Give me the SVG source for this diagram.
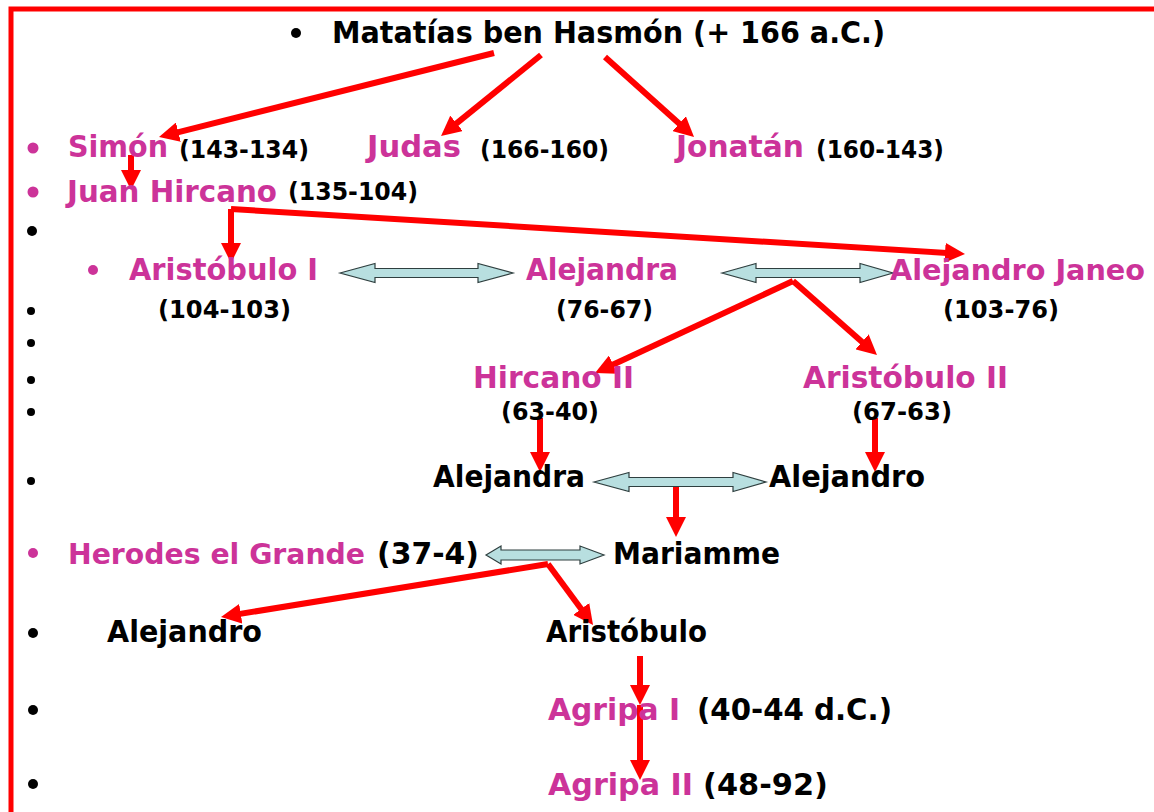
<svg xmlns="http://www.w3.org/2000/svg" width="1154" height="812" viewBox="0 0 1154 812">
<style>
text{font-family:"DejaVu Sans","Liberation Sans",sans-serif;font-weight:bold;}
.p{fill:#CC3399;font-size:31px;}
.k{fill:#000;font-size:31px;}
.d{fill:#000;font-size:25px;}
.s{font-size:29px;}
.b{fill:#000;}
.bp{fill:#CC3399;}
.ar{fill:none;stroke:#FF0000;stroke-width:6;marker-end:url(#ah);}
.da{fill:#B8DFE0;stroke:#2F3F3F;stroke-width:1.2;}
</style>
<defs>
<marker id="ah" markerUnits="userSpaceOnUse" viewBox="0 0 20 20" markerWidth="20" markerHeight="20" refX="10" refY="10" orient="auto">
<path d="M0,0 L20,10 L0,20 z" fill="#FF0000"/>
</marker>
</defs>
<rect width="1154" height="812" fill="#FFFFFF"/>
<path d="M11,812 V9 H1154" fill="none" stroke="#FF0000" stroke-width="5"/>

<g id="bullets">
<circle class="b" cx="296" cy="33" r="5"/>
<circle class="bp" cx="33" cy="148" r="5.5"/>
<circle class="bp" cx="33" cy="192" r="5.5"/>
<circle class="b" cx="32" cy="231" r="5"/>
<circle class="bp" cx="93" cy="270" r="5"/>
<circle class="b" cx="31" cy="311" r="4"/>
<circle class="b" cx="31" cy="343" r="4"/>
<circle class="b" cx="31" cy="380" r="4"/>
<circle class="b" cx="31" cy="412" r="4"/>
<circle class="b" cx="31" cy="481" r="4"/>
<circle class="bp" cx="33" cy="553" r="5"/>
<circle class="b" cx="33" cy="633" r="5"/>
<circle class="b" cx="33" cy="710" r="5"/>
<circle class="b" cx="33" cy="784" r="5"/>
</g>

<g id="connectors">
<path class="ar" d="M494,53 L168.7,134.6"/>
<path class="ar" d="M541,55 L448.8,129.7"/>
<path class="ar" d="M605,57 L686.6,130.3"/>
<path class="ar" d="M131,155 V180"/>
<path class="ar" d="M231,209 V253"/>
<path class="ar" d="M231,209 L955,253.4"/>
<path class="ar" d="M793,281 L604.1,368.8"/>
<path class="ar" d="M793,281 L869.5,348.4"/>
<path class="ar" d="M540,418 V462"/>
<path class="ar" d="M875,418 V462"/>
<path class="ar" d="M676,483 V527"/>
<path class="ar" d="M548,564 L230.9,615.4"/>
<path class="ar" d="M548,564 L587.1,617"/>
<path class="ar" d="M640,656 V695"/>
<path class="ar" d="M640,705 V770"/>
<polygon class="da" points="340,273 375,263.5 375,268.5 478,268.5 478,263.5 513,273 478,282.5 478,277.5 375,277.5 375,282.5"/>
<polygon class="da" points="722,273 756,263.5 756,268.5 860,268.5 860,263.5 893,273 860,282.5 860,277.5 756,277.5 756,282.5"/>
<polygon class="da" points="594,482 629,472.5 629,477.5 733,477.5 733,472.5 766,482 733,491.5 733,486.5 629,486.5 629,491.5"/>
<polygon class="da" points="486,555 501,546 501,550 580,550 580,546 604,555 580,564 580,560 501,560 501,564"/>
</g>

<g id="n-matatias"><text class="k" x="332" y="43" textLength="553" lengthAdjust="spacingAndGlyphs">Matatías ben Hasmón (+ 166 a.C.)</text></g>
<g id="n-simon"><text class="p" x="68" y="157" textLength="100" lengthAdjust="spacingAndGlyphs">Simón</text><text class="d" x="179" y="158" textLength="130" lengthAdjust="spacingAndGlyphs">(143-134)</text></g>
<g id="n-judas"><text class="p" x="367" y="157" textLength="94" lengthAdjust="spacingAndGlyphs">Judas</text><text class="d" x="480" y="158" textLength="129" lengthAdjust="spacingAndGlyphs">(166-160)</text></g>
<g id="n-jonatan"><text class="p" x="676" y="157" textLength="128" lengthAdjust="spacingAndGlyphs">Jonatán</text><text class="d" x="816" y="158" textLength="128" lengthAdjust="spacingAndGlyphs">(160-143)</text></g>
<g id="n-juan"><text class="p" x="67" y="202" textLength="210" lengthAdjust="spacingAndGlyphs">Juan Hircano</text><text class="d" x="288" y="200" textLength="130" lengthAdjust="spacingAndGlyphs">(135-104)</text></g>
<g id="n-aristobulo1"><text class="p" x="129" y="280" textLength="189" lengthAdjust="spacingAndGlyphs">Aristóbulo I</text><text class="d" x="158" y="318" textLength="133" lengthAdjust="spacingAndGlyphs">(104-103)</text></g>
<g id="n-alejandra"><text class="p" x="526" y="280" textLength="152" lengthAdjust="spacingAndGlyphs">Alejandra</text><text class="d" x="556" y="318" textLength="97" lengthAdjust="spacingAndGlyphs">(76-67)</text></g>
<g id="n-janeo"><text class="p s" x="890" y="280" textLength="255" lengthAdjust="spacingAndGlyphs">Alejandro Janeo</text><text class="d" x="943" y="318" textLength="116" lengthAdjust="spacingAndGlyphs">(103-76)</text></g>
<g id="n-hircano2"><text class="p" x="473" y="388" textLength="161" lengthAdjust="spacingAndGlyphs">Hircano II</text><text class="d" x="501" y="420" textLength="98" lengthAdjust="spacingAndGlyphs">(63-40)</text></g>
<g id="n-aristobulo2"><text class="p" x="803" y="388" textLength="205" lengthAdjust="spacingAndGlyphs">Aristóbulo II</text><text class="d" x="852" y="420" textLength="100" lengthAdjust="spacingAndGlyphs">(67-63)</text></g>
<g id="n-alejandra2"><text class="k" x="433" y="487" textLength="152" lengthAdjust="spacingAndGlyphs">Alejandra</text></g>
<g id="n-alejandro2"><text class="k" x="769" y="487" textLength="156" lengthAdjust="spacingAndGlyphs">Alejandro</text></g>
<g id="n-herodes"><text class="p s" x="68" y="564" textLength="297" lengthAdjust="spacingAndGlyphs">Herodes el Grande</text><text class="k" x="377" y="564" textLength="102" lengthAdjust="spacingAndGlyphs">(37-4)</text></g>
<g id="n-mariamme"><text class="k" x="613" y="564" textLength="167" lengthAdjust="spacingAndGlyphs">Mariamme</text></g>
<g id="n-alejandro3"><text class="k" x="107" y="642" textLength="155" lengthAdjust="spacingAndGlyphs">Alejandro</text></g>
<g id="n-aristobulo3"><text class="k" x="546" y="642" textLength="161" lengthAdjust="spacingAndGlyphs">Aristóbulo</text></g>
<g id="n-agripa1"><text class="p" x="548" y="720" textLength="132" lengthAdjust="spacingAndGlyphs">Agripa I</text><text class="k" x="697" y="720" textLength="195" lengthAdjust="spacingAndGlyphs">(40-44 d.C.)</text></g>
<g id="n-agripa2"><text class="p" x="548" y="795" textLength="145" lengthAdjust="spacingAndGlyphs">Agripa II</text><text class="k" x="703" y="795" textLength="125" lengthAdjust="spacingAndGlyphs">(48-92)</text></g>
</svg>
